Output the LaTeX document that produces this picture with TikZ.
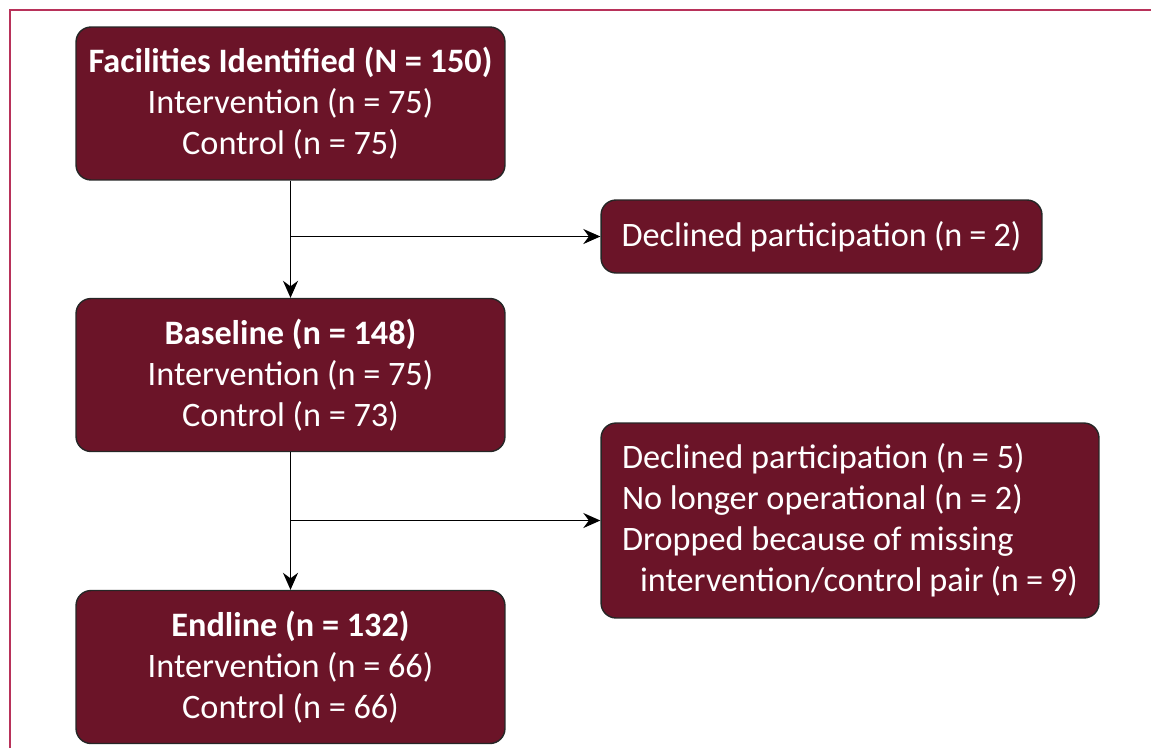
\documentclass[tikz,border=0pt]{standalone}
\usepackage{fontspec}
\setmainfont{Carlito}
\usetikzlibrary{arrows.meta}
\definecolor{boxred}{HTML}{6B1428}
\definecolor{framered}{HTML}{B8325A}
\tikzset{
  flowbox/.style={draw=black!85, fill=boxred, text=white, rounded corners=0.3cm,
    line width=0.8pt, inner sep=0pt, font=\fontsize{19.5}{23.3}\selectfont},
  mainbox/.style={flowbox, minimum width=8.58cm, minimum height=3.06cm, align=center},
  flow/.style={draw, line width=1.1pt, -{Stealth[length=0.34cm,width=0.3cm]}}
}
\begin{document}
\begin{tikzpicture}[x=0.02cm,y=-0.02cm]
\useasboundingbox (0,0) rectangle (1151,748);
\draw[framered, line width=1.3pt] (10,748) -- (10,10) -- (1151,10);

\node[mainbox] (ident) at (290.5,103.5) {\textbf{Facilities Identified (N = 150)}\\Intervention (n = 75)\\Control (n = 75)};
\node[mainbox] (base) at (290.5,375) {\textbf{Baseline (n = 148)}\\Intervention (n = 75)\\Control (n = 73)};
\node[mainbox] (end) at (290.5,667) {\textbf{Endline (n = 132)}\\Intervention (n = 66)\\Control (n = 66)};

\node[flowbox, minimum width=8.82cm, minimum height=1.46cm, align=flush left, text width=8.0cm] (decl1) at (821.5,236.5) {Declined participation (n = 2)};
\node[flowbox, minimum width=9.96cm, minimum height=3.9cm, align=flush left, text width=9.12cm] (decl2) at (850,520.5) {Declined participation (n = 5)\\No longer operational (n = 2)\\Dropped because of missing\\\hspace*{0.36cm}intervention/control pair (n = 9)};

\path[flow] (ident) -- (base);
\path[flow] (ident.south |- decl1.west) -- (decl1.west);
\path[flow] (base) -- (end);
\path[flow] (base.south |- decl2.west) -- (decl2.west);
\end{tikzpicture}
\end{document}
